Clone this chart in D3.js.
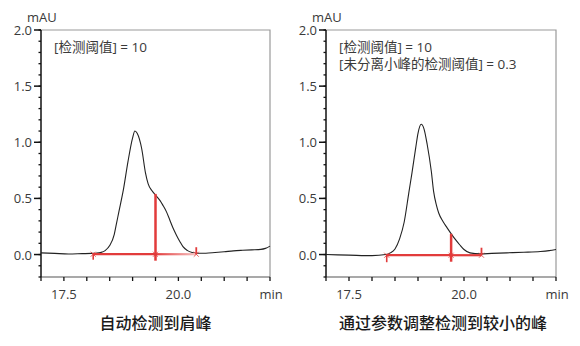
<!DOCTYPE html>
<html><head><meta charset="utf-8">
<script src="https://cdn.jsdelivr.net/npm/d3@7"></script>
<style>
html,body{margin:0;padding:0;background:#fff;}
svg{display:block;font-family:"Open Sans","Noto Sans CJK SC",sans-serif;}
</style></head>
<body><svg id="c" width="580" height="346"></svg>
<script>
// ---------- DATA ----------
const xDomain = [17, 22];
const yDomain = [-0.2, 2.0];
const xTickLabels = [17.5, 20.0];
const yTickLabels = [0.0, 0.5, 1.0, 1.5, 2.0];
const yUnit = "mAU";
const xUnit = "min";

// Panel 1: 自动检测到肩峰
const time1 = [17.0,17.3,17.6,17.9,18.1,18.2,18.3,18.4,18.5,18.6,18.65,18.7,18.8,18.9,19.0,19.05,19.1,19.2,19.28,19.34,19.42,19.5,19.6,19.66,19.74,19.81,19.9,19.96,20.04,20.1,20.2,20.3,20.4,20.6,20.8,21.0,21.2,21.4,21.6,21.8,21.9,22.0];
const signal1 = [0.015,0.01,0.005,0.008,0.01,0.012,0.018,0.035,0.08,0.18,0.28,0.38,0.58,0.83,1.04,1.10,1.08,0.94,0.73,0.63,0.57,0.53,0.48,0.44,0.38,0.31,0.22,0.17,0.11,0.07,0.035,0.018,0.012,0.012,0.018,0.025,0.033,0.038,0.042,0.046,0.055,0.075];
const peak1 = {start: 18.14, split: 19.5, end: 20.39, base: 0.003, splitTop: 0.54};
const title1 = "自动检测到肩峰";
const notes1 = ["[检测阈值] = 10"];

// Panel 2: 通过参数调整检测到较小的峰
const time2 = [17.0,17.5,18.0,18.3,18.4,18.5,18.6,18.7,18.8,18.87,18.95,19.0,19.07,19.13,19.2,19.29,19.34,19.4,19.45,19.55,19.63,19.73,19.82,19.91,20.0,20.13,20.35,20.6,20.93,21.3,21.66,21.85,22.0];
const signal2 = [0.0,-0.005,-0.01,0.0,0.015,0.05,0.14,0.29,0.55,0.73,0.95,1.08,1.16,1.12,0.98,0.74,0.56,0.44,0.37,0.29,0.24,0.18,0.13,0.085,0.045,0.015,0.006,0.01,0.015,0.02,0.027,0.035,0.045];
const peak2 = {start: 18.32, split: 19.72, end: 20.38, base: -0.006, splitTop: 0.185};
const title2 = "通过参数调整检测到较小的峰";
const notes2 = ["[检测阈值] = 10", "[未分离小峰的检测阈值] = 0.3"];

// ---------- LAYOUT ----------
const panels = [
  {left: 41, right: 270, time: time1, signal: signal1, peak: peak1, title: title1, notes: notes1, fade: true},
  {left: 326, right: 556, time: time2, signal: signal2, peak: peak2, title: title2, notes: notes2, fade: false}
];
const plotTop = 30, plotBottom = 277;
const red = "#e23b3b";
const textCol = "#3a3a3a";

const svg = d3.select("#c");
const defs = svg.append("defs");
const grad = defs.append("linearGradient").attr("id","fadeRed").attr("x1","0").attr("x2","1").attr("y1","0").attr("y2","0");
grad.append("stop").attr("offset","0").attr("stop-color",red);
grad.append("stop").attr("offset","1").attr("stop-color","#f6c3c3");

panels.forEach((p, i) => {
  const x = d3.scaleLinear().domain(xDomain).range([p.left, p.right]);
  const y = d3.scaleLinear().domain(yDomain).range([plotBottom, plotTop]);
  const g = svg.append("g");

  g.append("path")
    .attr("d", `M${p.left},${plotTop}H${p.right}V${plotBottom}`)
    .attr("fill","none").attr("stroke","#9a9a9a").attr("stroke-width",1.2);
  g.append("line").attr("x1",p.left).attr("x2",p.right).attr("y1",plotBottom).attr("y2",plotBottom)
    .attr("stroke","#555").attr("stroke-width",1.2);

  const xMinor = d3.range(17, 22.001, 0.5);
  g.selectAll(".xt").data(xMinor).join("line")
    .attr("x1", d => x(d)).attr("x2", d => x(d))
    .attr("y1", plotBottom).attr("y2", plotBottom + 4)
    .attr("stroke","#111").attr("stroke-width",1.3);
  g.selectAll(".xl").data(xTickLabels).join("text")
    .attr("x", d => x(d)).attr("y", 299)
    .attr("text-anchor","middle").attr("font-size",13).attr("fill",textCol)
    .text(d => d3.format(".1f")(d));
  g.append("text").attr("x", p.right - 10.5).attr("y", 299)
    .attr("font-size",13).attr("fill",textCol).text(xUnit);

  g.append("line").attr("x1",p.left).attr("x2",p.left).attr("y1",plotTop).attr("y2",plotBottom)
    .attr("stroke","#111").attr("stroke-width",1.5);
  const yMinor = d3.range(-2, 21).map(k => k / 10);
  g.selectAll(".ym").data(yMinor).join("line")
    .attr("x1", p.left - 2.5).attr("x2", p.left)
    .attr("y1", d => y(d)).attr("y2", d => y(d))
    .attr("stroke","#111").attr("stroke-width",1.3);
  g.selectAll(".yM").data(yTickLabels).join("line")
    .attr("x1", p.left - 7).attr("x2", p.left)
    .attr("y1", d => y(d)).attr("y2", d => y(d))
    .attr("stroke","#111").attr("stroke-width",1.5);
  g.selectAll(".yl").data(yTickLabels).join("text")
    .attr("x", p.left - 9).attr("y", d => y(d) + 5)
    .attr("text-anchor","end").attr("font-size",13).attr("fill",textCol)
    .text(d => d3.format(".1f")(d));
  g.append("text").attr("x", p.left - 14).attr("y", 22)
    .attr("font-size",13).attr("fill",textCol).text(yUnit);

  g.selectAll(".nt").data(p.notes).join("text")
    .attr("x", p.left + 13).attr("y", (d, k) => 52 + k * 17)
    .attr("font-size",13.5).attr("fill",textCol).text(d => d);

  const pts = p.time.map((t, k) => [t, p.signal[k]]);
  g.append("path").datum(pts)
    .attr("d", d3.line().x(d => x(d[0])).y(d => y(d[1])).curve(d3.curveMonotoneX))
    .attr("fill","none").attr("stroke","#222").attr("stroke-width",1.1);

  const pk = p.peak;
  g.append("line").attr("x1", x(pk.start)).attr("x2", x(pk.split))
    .attr("y1", y(pk.base)).attr("y2", y(pk.base))
    .attr("stroke", red).attr("stroke-width", 2.2);
  g.append("rect").attr("x", x(pk.split)).attr("y", y(pk.base) - 1.1)
    .attr("width", x(pk.end) - x(pk.split)).attr("height", 2.2)
    .attr("fill", p.fade ? "url(#fadeRed)" : red);
  g.append("line").attr("x1", x(pk.split)).attr("x2", x(pk.split))
    .attr("y1", y(pk.splitTop)).attr("y2", y(pk.base) + 6.5)
    .attr("stroke", red).attr("stroke-width", 2.5);
  g.append("line").attr("x1", x(pk.start)).attr("x2", x(pk.start))
    .attr("y1", y(pk.base) - 1).attr("y2", y(pk.base) + (i ? 7 : 5.5))
    .attr("stroke", red).attr("stroke-width", 1.6);
  g.append("line").attr("x1", x(pk.end)).attr("x2", x(pk.end))
    .attr("y1", y(pk.base) - (i ? 7.5 : 7)).attr("y2", y(pk.base))
    .attr("stroke", red).attr("stroke-width", 1.8);
  [pk.start, pk.split, pk.end].forEach(t => {
    const cx = x(t), cy = y(pk.base);
    g.append("path").attr("d", `M${cx-2.5},${cy-2.5}L${cx+2.5},${cy+2.5}M${cx-2.5},${cy+2.5}L${cx+2.5},${cy-2.5}`)
      .attr("stroke", red).attr("stroke-width", 1).attr("opacity", 0.8);
  });

  g.append("text").attr("x", (p.left + p.right) / 2 + (i ? 2 : 0)).attr("y", 329)
    .attr("text-anchor","middle").attr("font-size",16).attr("font-weight",500)
    .attr("font-family","'Noto Sans CJK SC',sans-serif").attr("fill","#1a1a1a")
    .text(p.title);
});
</script></body></html>
